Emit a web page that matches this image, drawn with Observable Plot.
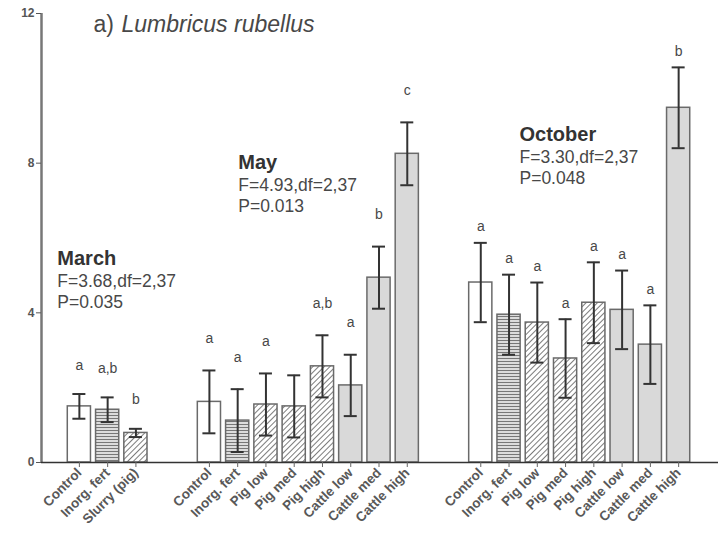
<!DOCTYPE html>
<html>
<head>
<meta charset="utf-8">
<script src="https://cdn.jsdelivr.net/npm/d3@7"></script>
<script src="https://cdn.jsdelivr.net/npm/@observablehq/plot@0.6"></script>
<style>
  html, body { margin: 0; padding: 0; background: #fff; }
  #chart svg { display: block; }
</style>
</head>
<body>
<div id="chart"></div>
<script>
// Lumbricus rubellus abundance by treatment, three sampling months (mean ± SE)
const months = ["March", "May", "October"];
const statF = ["F=3.68,df=2,37", "F=4.93,df=2,37", "F=3.30,df=2,37"];
const statP = ["P=0.035", "P=0.013", "P=0.048"];

const marchTreatments = ["Control", "Inorg. fert", "Slurry (pig)"];
const fullTreatments = ["Control", "Inorg. fert", "Pig low", "Pig med", "Pig high", "Cattle low", "Cattle med", "Cattle high"];

const marchMean = [1.50, 1.41, 0.79];
const marchSE = [0.33, 0.33, 0.11];
const marchLetters = ["a", "a,b", "b"];

const mayMean = [1.62, 1.12, 1.55, 1.50, 2.57, 2.06, 4.94, 8.25];
const maySE = [0.84, 0.84, 0.83, 0.83, 0.83, 0.82, 0.83, 0.84];
const mayLetters = ["a", "a", "a", "", "a,b", "a", "b", "c"];

const octMean = [4.81, 3.95, 3.74, 2.78, 4.27, 4.08, 3.15, 9.48];
const octSE = [1.06, 1.07, 1.07, 1.05, 1.08, 1.05, 1.05, 1.08];
const octLetters = ["a", "a", "a", "a", "a", "a", "a", "b"];

const yTicks = [0, 4, 8, 12];

// ---- layout ----
const GAP = 2.6;      // distance (in bar slots) between the last bar of a month and the next month's first bar
const HALF = 0.41;    // half bar width, in slots
const CAP = 0.23;     // half width of the error-bar caps
const letterLift = [29, 32, 16];           // px above the error bar for the significance letters
const headingShift = [-0.78, 1.02, 1.37];  // heading x offset from the month's first bar
const headingY = [5.29, 7.85, 8.6];        // heading baseline, in y units

function fillFor(t) {
  if (t === "Control") return "#ffffff";
  if (t === "Inorg. fert") return "url(#stripes)";
  if (t.startsWith("Pig") || t.startsWith("Slurry")) return "url(#hatch)";
  return "#d9d9d9";
}

const groups = [
  {month: 0, names: marchTreatments, mean: marchMean, se: marchSE, letters: marchLetters},
  {month: 1, names: fullTreatments, mean: mayMean, se: maySE, letters: mayLetters},
  {month: 2, names: fullTreatments, mean: octMean, se: octSE, letters: octLetters}
];

const bars = [];
const headings = [];
let pos = 0;
groups.forEach((g, gi) => {
  if (gi > 0) pos += GAP - 1;
  headings.push({month: months[g.month], f: statF[g.month], p: statP[g.month], x: pos + headingShift[gi], y: headingY[gi]});
  g.names.forEach((name, i) => {
    bars.push({group: gi, name, pos, mean: g.mean[i], se: g.se[i], letter: g.letters[i], fill: fillFor(name)});
    pos += 1;
  });
});
const lastPos = pos - 1;
const xDomain = [-1.34, lastPos + 1.41];
const labelAt = new Map(bars.map(d => [d.pos, d.name]));

const textColor = "#484848";

const chart = Plot.plot({
  width: 723,
  height: 534,
  marginLeft: 41,
  marginRight: 5,
  marginTop: 13,
  marginBottom: 72,
  x: {domain: xDomain, axis: null},
  y: {domain: [0, 12], axis: null},
  color: {type: "identity"},
  style: {fontFamily: "'Liberation Sans', Arial, sans-serif", background: "#fff", overflow: "visible"},
  marks: [
    // bars
    Plot.rect(bars, {
      x1: d => d.pos - HALF, x2: d => d.pos + HALF,
      y1: () => 0, y2: "mean",
      fill: "fill", stroke: "#6a6a6a", strokeWidth: 1.5
    }),
    // error bars
    Plot.ruleX(bars, {x: "pos", y1: d => d.mean - d.se, y2: d => d.mean + d.se, stroke: "#333", strokeWidth: 2}),
    Plot.ruleY(bars, {y: d => d.mean + d.se, x1: d => d.pos - CAP, x2: d => d.pos + CAP, stroke: "#333", strokeWidth: 2}),
    Plot.ruleY(bars, {y: d => d.mean - d.se, x1: d => d.pos - CAP, x2: d => d.pos + CAP, stroke: "#333", strokeWidth: 2}),
    // significance letters
    ...[0, 1, 2].map(gi => Plot.text(bars.filter(d => d.group === gi && d.letter), {
      x: "pos", y: d => d.mean + d.se, text: "letter",
      dy: -letterLift[gi], fontSize: 14, fill: textColor
    })),
    // month headings and test statistics
    Plot.text(headings, {x: "x", y: "y", text: "month", textAnchor: "start", lineAnchor: "bottom",
      fontSize: 20, fontWeight: "bold", fill: "#333"}),
    Plot.text(headings, {x: "x", y: "y", text: "f", textAnchor: "start", lineAnchor: "bottom",
      dy: 22, fontSize: 17.5, fill: textColor}),
    Plot.text(headings, {x: "x", y: "y", text: "p", textAnchor: "start", lineAnchor: "bottom",
      dy: 43, fontSize: 17.5, fill: textColor}),
    // panel title
    Plot.text(["a)"], {frameAnchor: "top-left", text: d => d, textAnchor: "start", lineAnchor: "bottom",
      dx: 52, dy: 18, fontSize: 23, fill: textColor}),
    Plot.text(["Lumbricus rubellus"], {frameAnchor: "top-left", text: d => d, textAnchor: "start", lineAnchor: "bottom",
      dx: 80, dy: 18, fontSize: 23, fontStyle: "italic", fill: textColor}),
    // axes
    Plot.ruleX([xDomain[0]], {y1: 0, y2: 12, stroke: "#777", strokeWidth: 2.5}),
    Plot.axisY(yTicks, {anchor: "left", tickSize: 5, tickPadding: 2, fontSize: 12, fontWeight: "bold",
      stroke: "#555", fill: "#555"}),
    Plot.ruleY([0], {stroke: "#333", strokeWidth: 1.5}),
    Plot.axisX(bars.map(d => d.pos), {anchor: "bottom", tickSize: 5, tickPadding: 3, tickRotate: -45,
      tickFormat: p => labelAt.get(p), fontSize: 13.5, fontWeight: "bold", stroke: "#666", fill: "#585858"})
  ]
});

// fill patterns: horizontal stripes (inorganic fertiliser) and diagonal hatching (pig slurry)
const defs = d3.create("svg:defs");
const stripes = defs.append("pattern").attr("id", "stripes")
  .attr("patternUnits", "userSpaceOnUse").attr("width", 6).attr("height", 3);
stripes.append("rect").attr("width", 6).attr("height", 3).attr("fill", "#eeeeee");
stripes.append("line").attr("x1", 0).attr("x2", 6).attr("y1", 1.5).attr("y2", 1.5)
  .attr("stroke", "#777", ).attr("stroke-width", 1.3);
const hatch = defs.append("pattern").attr("id", "hatch")
  .attr("patternUnits", "userSpaceOnUse").attr("width", 4).attr("height", 4)
  .attr("patternTransform", "rotate(45)");
hatch.append("rect").attr("width", 4).attr("height", 4).attr("fill", "#fff");
hatch.append("line").attr("x1", 0).attr("x2", 0).attr("y1", 0).attr("y2", 4)
  .attr("stroke", "#444").attr("stroke-width", 1.4);
chart.insertBefore(defs.node(), chart.firstChild);

document.getElementById("chart").appendChild(chart);
</script>
</body>
</html>
